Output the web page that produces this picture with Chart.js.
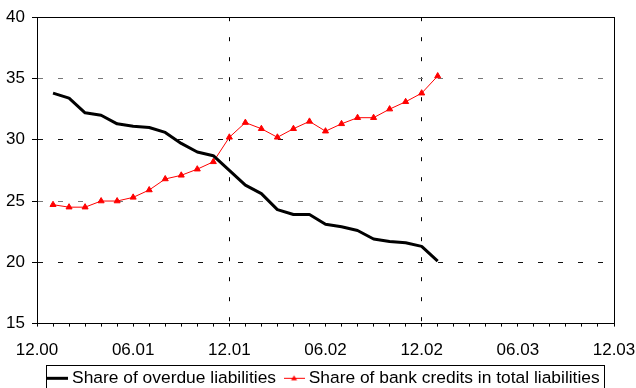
<!DOCTYPE html>
<html>
<head>
<meta charset="utf-8">
<script src="https://cdn.jsdelivr.net/npm/chart.js@4"></script>
<style>
  html, body { margin: 0; padding: 0; background: #fff; }
  #wrap { width: 636px; height: 388px; }
</style>
</head>
<body>
<div id="wrap"><canvas id="liabChart"></canvas></div>
<script>
// monthly observations (mm.yy)
const months = ['01.01', '02.01', '03.01', '04.01', '05.01', '06.01', '07.01', '08.01', '09.01',
  '10.01', '11.01', '12.01', '01.02', '02.02', '03.02', '04.02', '05.02', '06.02', '07.02',
  '08.02', '09.02', '10.02', '11.02', '12.02', '01.03'];
const overdueShare = [33.8, 33.4, 32.2, 32.0, 31.3, 31.1, 31.0, 30.6, 29.7, 29.0, 28.7, 27.5, 26.3,
  25.6, 24.3, 23.9, 23.9, 23.1, 22.9, 22.6, 21.9, 21.7, 21.6, 21.3, 20.1];
const bankCreditShare = [24.7, 24.5, 24.5, 25.0, 25.0, 25.3, 25.9, 26.8, 27.1, 27.6, 28.2, 30.2, 31.4,
  30.9, 30.2, 30.9, 31.5, 30.7, 31.3, 31.8, 31.8, 32.5, 33.1, 33.8, 35.2];
const axisLabels = ['12.00', '06.01', '12.01', '06.02', '12.02', '06.03', '12.03'];
const yTicks = [15, 20, 25, 30, 35, 40];

// months since 12.00
function monthPos(label) {
  const [mm, yy] = label.split('.').map(Number);
  return yy * 12 + mm - 12;
}

function toPoints(values) {
  return values.map((v, i) => ({ x: monthPos(months[i]), y: v }));
}

// small legend samples
function sampleLine(color, width, marker) {
  const c = document.createElement('canvas');
  c.width = 21; c.height = 9;
  const g = c.getContext('2d');
  g.strokeStyle = color;
  g.lineWidth = width;
  g.beginPath();
  g.moveTo(0, 4.5);
  g.lineTo(21, 4.5);
  g.stroke();
  if (marker) {
    g.fillStyle = color;
    g.beginPath();
    g.moveTo(10.5, 1.5);
    g.lineTo(13.5, 6.5);
    g.lineTo(7.5, 6.5);
    g.closePath();
    g.fill();
  }
  return c;
}

function yGridColor(c) {
  if (!c.tick) return 'transparent';
  const v = c.tick.value;
  if (v === 25 || v === 35) return '#777';
  if (v === 20 || v === 30) return '#111';
  return 'transparent';
}

const frame = {
  id: 'frame',
  beforeDatasetsDraw(chart) {
    const { ctx, chartArea: a } = chart;
    ctx.save();
    ctx.strokeStyle = '#000';
    ctx.lineWidth = 1;
    ctx.strokeRect(Math.round(a.left) + 0.5, Math.round(a.top) + 0.5,
      Math.round(a.right - a.left), Math.round(a.bottom - a.top));
    ctx.restore();
  },
  afterDraw(chart) {
    const boxes = chart.legend.legendHitBoxes;
    if (!boxes || !boxes.length) return;
    const first = boxes[0], last = boxes[boxes.length - 1];
    const { ctx } = chart;
    ctx.save();
    ctx.strokeStyle = '#000';
    ctx.lineWidth = 1;
    const x1 = Math.round(first.left - 5) + 0.5;
    const x2 = Math.round(last.left + last.width + 4) + 0.5;
    const y1 = Math.round(first.top - 5) + 0.5;
    ctx.strokeRect(x1, y1, x2 - x1, 40);
    ctx.restore();
  }
};

Chart.defaults.font.family = '"Liberation Sans", Arial, sans-serif';
Chart.defaults.font.size = 17;
Chart.defaults.color = '#000';

new Chart(document.getElementById('liabChart'), {
  type: 'line',
  data: {
    datasets: [
      {
        label: 'Share of overdue liabilities',
        data: toPoints(overdueShare),
        borderColor: '#000',
        borderWidth: 3,
        pointRadius: 0,
        borderJoinStyle: 'round',
        tension: 0
      },
      {
        label: 'Share of bank credits in total liabilities',
        data: toPoints(bankCreditShare),
        borderColor: '#ff0000',
        backgroundColor: '#ff0000',
        borderWidth: 1,
        pointStyle: 'triangle',
        pointRadius: 3.5,
        pointBorderWidth: 1,
        tension: 0
      }
    ]
  },
  options: {
    responsive: true,
    maintainAspectRatio: false,
    animation: false,
    layout: { padding: { top: 16, right: 22, left: 0, bottom: -9 } },
    scales: {
      x: {
        type: 'linear',
        min: 0,
        max: 36,
        afterFit(scale) {
          scale.height = 34;
          scale.paddingLeft = 0;
          scale.paddingRight = 0;
        },
        ticks: {
          stepSize: 1,
          autoSkip: false,
          maxRotation: 0,
          padding: 14,
          callback: v => (v % 6 === 0 ? axisLabels[v / 6] : '')
        },
        grid: {
          color: c => (c.tick && (c.tick.value === 12 || c.tick.value === 24) ? '#000' : 'transparent'),
          tickColor: '#000',
          tickLength: 3,
          lineWidth: 1
        },
        border: { color: '#000', dash: [4, 16] }
      },
      y: {
        min: 15,
        max: 40,
        afterFit(scale) { scale.width = 37; },
        afterBuildTicks(scale) { scale.ticks = yTicks.map(v => ({ value: v })); },
        ticks: { padding: 7 },
        grid: {
          color: yGridColor,
          tickColor: '#000',
          tickLength: 5,
          lineWidth: 1
        },
        border: { color: '#000', dash: [5, 15] }
      }
    },
    plugins: {
      tooltip: { enabled: false },
      legend: {
        position: 'bottom',
        fullSize: false,
        labels: {
          font: { size: 17.4 },
          usePointStyle: true,
          pointStyleWidth: 12,
          padding: 12,
          generateLabels: chart => chart.data.datasets.map((ds, i) => ({
            text: ds.label,
            datasetIndex: i,
            pointStyle: sampleLine(ds.borderColor, ds.borderWidth, i === 1),
            fillStyle: ds.borderColor,
            strokeStyle: ds.borderColor,
            lineWidth: 0,
            hidden: false
          }))
        }
      }
    }
  },
  plugins: [frame]
});
</script>
</body>
</html>
